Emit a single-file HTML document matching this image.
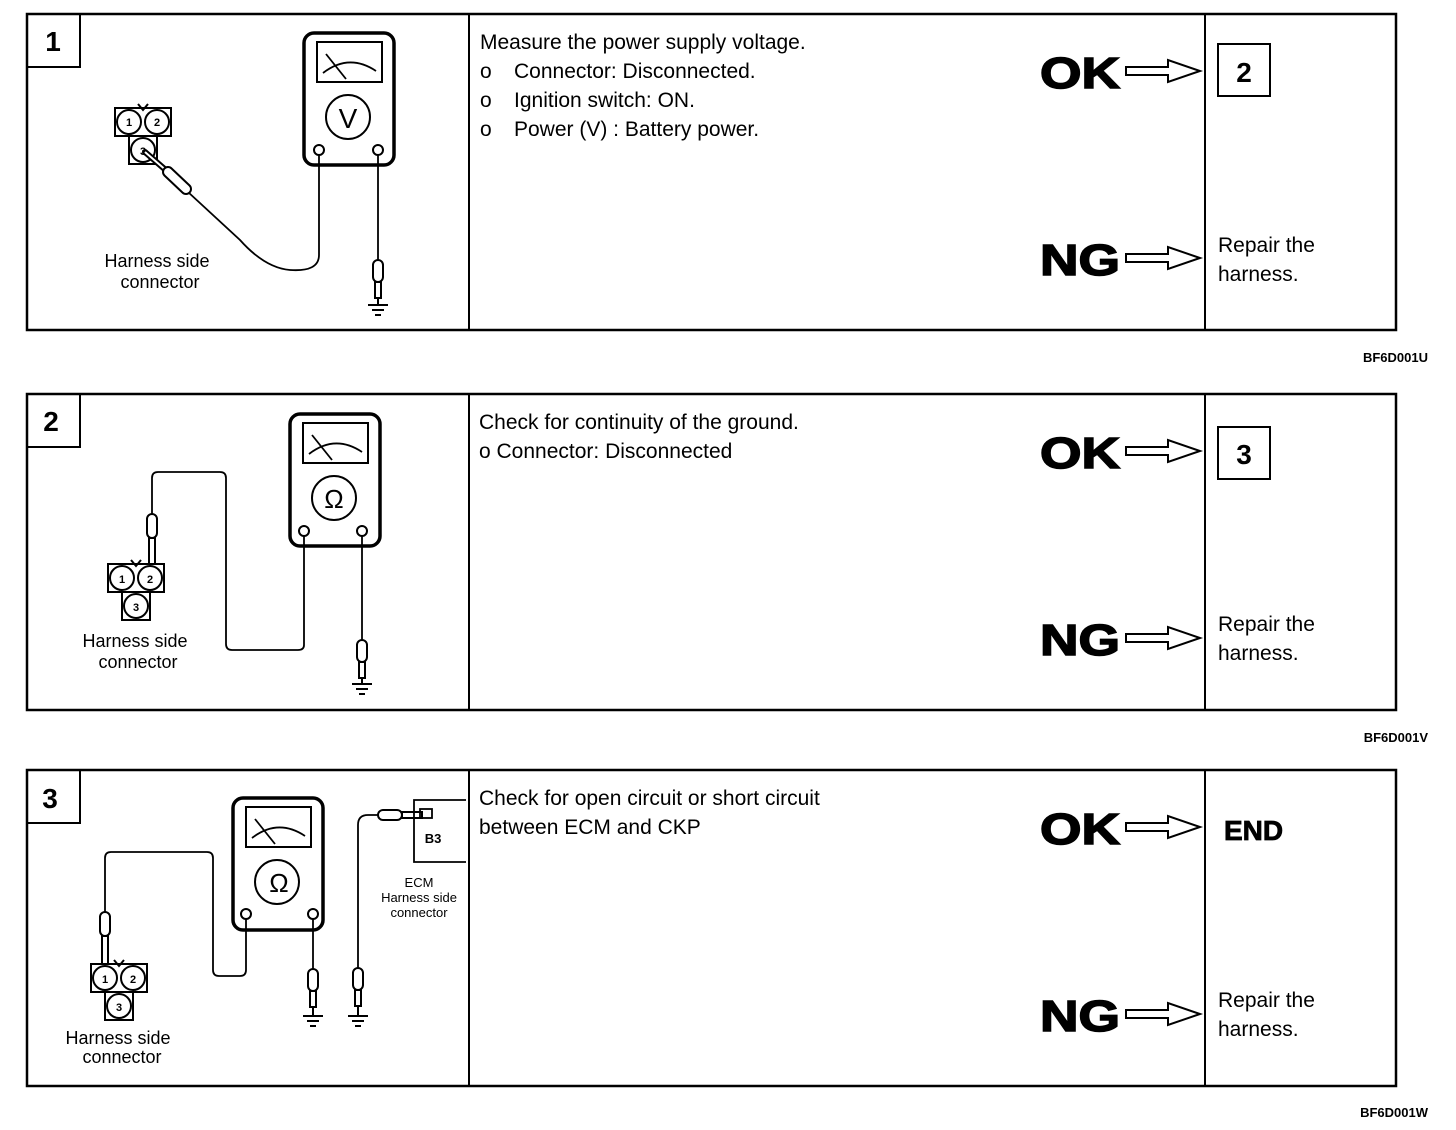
<!DOCTYPE html>
<html><head><meta charset="utf-8"><style>
html,body{margin:0;padding:0;background:#fff}
svg{display:block}
text{font-family:"Liberation Sans",Arial,sans-serif;fill:#000}
</style></head><body>
<svg width="1456" height="1130" viewBox="0 0 1456 1130" xmlns="http://www.w3.org/2000/svg">
<defs>
<g id="frame">
  <rect x="27" y="14" width="1369" height="316" fill="none" stroke="#000" stroke-width="2.5"/>
  <line x1="469" y1="14" x2="469" y2="330" stroke="#000" stroke-width="2"/>
  <line x1="1205" y1="14" x2="1205" y2="330" stroke="#000" stroke-width="2"/>
  <rect x="27" y="14" width="53" height="53" fill="none" stroke="#000" stroke-width="2"/>
  <text x="1040" y="88" font-size="44" font-weight="bold" textLength="80" lengthAdjust="spacingAndGlyphs" stroke="#000" stroke-width="1.5">OK</text>
  <path d="M1126,67 H1168 V60 L1200,71 L1168,82 V75 H1126 Z" fill="#fff" stroke="#000" stroke-width="2"/>
  <text x="1040" y="275" font-size="44" font-weight="bold" textLength="80" lengthAdjust="spacingAndGlyphs" stroke="#000" stroke-width="1.5">NG</text>
  <path d="M1126,254 H1168 V247 L1200,258 L1168,269 V262 H1126 Z" fill="#fff" stroke="#000" stroke-width="2"/>
</g>
<g id="meterTop">
  <rect x="0" y="0" width="90" height="132" rx="10" fill="#fff" stroke="#000" stroke-width="3.5"/>
  <rect x="13" y="9" width="65" height="40" fill="none" stroke="#000" stroke-width="2"/>
  <path d="M19,40 Q45,20 72,38" fill="none" stroke="#000" stroke-width="1.8"/>
  <line x1="22" y1="21" x2="42" y2="46" stroke="#000" stroke-width="1.8"/>
  <circle cx="44" cy="84" r="22" fill="none" stroke="#000" stroke-width="2"/>
</g>
<g id="probe">
  <rect x="-5" y="0" width="10" height="22" rx="5" fill="#fff" stroke="#000" stroke-width="2"/>
  <rect x="-3" y="22" width="6" height="16" fill="#fff" stroke="#000" stroke-width="2"/>
</g>
<g id="gnd" stroke="#000" stroke-width="2">
  <line x1="-10" y1="0" x2="10" y2="0"/><line x1="-6" y1="5" x2="6" y2="5"/><line x1="-3" y1="10" x2="3" y2="10"/>
</g>
<g id="conn" stroke="#000" stroke-width="2" fill="#fff">
  <rect x="-28" y="-14" width="56" height="28"/>
  <rect x="-14" y="14" width="28" height="28"/>
  <circle cx="-14" cy="0" r="12"/><circle cx="14" cy="0" r="12"/><circle cx="0" cy="28" r="12"/>
  <path d="M-5,-18 L0,-12 L5,-18" fill="none"/>
</g>
</defs>

<!-- Panel 1 -->
<use href="#frame"/>
<text x="53" y="51" font-size="28" font-weight="bold" text-anchor="middle">1</text>
<text x="480" y="49" font-size="21">Measure the power supply voltage.</text>
<text x="480" y="78" font-size="21">o</text><text x="514" y="78" font-size="21">Connector: Disconnected.</text>
<text x="480" y="107" font-size="21">o</text><text x="514" y="107" font-size="21">Ignition switch: ON.</text>
<text x="480" y="136" font-size="21">o</text><text x="514" y="136" font-size="21">Power (V) : Battery power.</text>
<rect x="1218" y="44" width="52" height="52" fill="none" stroke="#000" stroke-width="2"/>
<text x="1244" y="82" font-size="28" font-weight="bold" text-anchor="middle">2</text>
<text x="1218" y="252" font-size="21">Repair the</text>
<text x="1218" y="281" font-size="21">harness.</text>
<text x="1428" y="362" font-size="13" font-weight="bold" text-anchor="end">BF6D001U</text>
<g transform="translate(304,33)"><use href="#meterTop"/></g>
<text x="348" y="128" font-size="28" text-anchor="middle">V</text>
<circle cx="319" cy="150" r="5" fill="#fff" stroke="#000" stroke-width="2"/>
<circle cx="378" cy="150" r="5" fill="#fff" stroke="#000" stroke-width="2"/>
<path d="M319,155 V255 Q319,272 290,270 Q265,268 240,240 L188,192" fill="none" stroke="#000" stroke-width="1.8"/>
<use href="#conn" transform="translate(143,122)"/>
<text x="129" y="126" font-size="11" font-weight="bold" text-anchor="middle">1</text>
<text x="157" y="126" font-size="11" font-weight="bold" text-anchor="middle">2</text>
<text x="143" y="155" font-size="11" font-weight="bold" text-anchor="middle">3</text>
<line x1="145" y1="152" x2="168" y2="172" stroke="#000" stroke-width="6" stroke-linecap="round"/>
<line x1="145" y1="152" x2="168" y2="172" stroke="#fff" stroke-width="2"/>
<line x1="168" y1="172" x2="186" y2="189" stroke="#000" stroke-width="12" stroke-linecap="round"/>
<line x1="168" y1="172" x2="186" y2="189" stroke="#fff" stroke-width="8" stroke-linecap="round"/>
<line x1="378" y1="155" x2="378" y2="260" stroke="#000" stroke-width="1.8"/>
<use href="#probe" transform="translate(378,260)"/>
<line x1="378" y1="298" x2="378" y2="305" stroke="#000" stroke-width="2"/>
<use href="#gnd" transform="translate(378,305)"/>
<text x="157" y="267" font-size="18" text-anchor="middle">Harness side</text>
<text x="160" y="288" font-size="18" text-anchor="middle">connector</text>

<!-- Panel 2 -->
<use href="#frame" transform="translate(0,380)"/>
<text x="51" y="431" font-size="28" font-weight="bold" text-anchor="middle">2</text>
<text x="479" y="429" font-size="21">Check for continuity of the ground.</text>
<text x="479" y="458" font-size="21">o Connector: Disconnected</text>
<rect x="1218" y="427" width="52" height="52" fill="none" stroke="#000" stroke-width="2"/>
<text x="1244" y="464" font-size="28" font-weight="bold" text-anchor="middle">3</text>
<text x="1218" y="631" font-size="21">Repair the</text>
<text x="1218" y="660" font-size="21">harness.</text>
<text x="1428" y="742" font-size="13" font-weight="bold" text-anchor="end">BF6D001V</text>
<g transform="translate(290,414)"><use href="#meterTop"/></g>
<text x="334" y="508" font-size="26" text-anchor="middle" font-family="Liberation Serif">Ω</text>
<circle cx="304" cy="531" r="5" fill="#fff" stroke="#000" stroke-width="2"/>
<circle cx="362" cy="531" r="5" fill="#fff" stroke="#000" stroke-width="2"/>
<path d="M304,536 V645 Q304,650 298,650 H232 Q226,650 226,644 V478 Q226,472 220,472 H158 Q152,472 152,478 V514" fill="none" stroke="#000" stroke-width="1.8"/>
<rect x="147" y="514" width="10" height="24" rx="5" fill="#fff" stroke="#000" stroke-width="2"/>
<rect x="149" y="538" width="6" height="26" fill="#fff" stroke="#000" stroke-width="2"/>
<use href="#conn" transform="translate(136,578)"/>
<text x="122" y="583" font-size="11" font-weight="bold" text-anchor="middle">1</text>
<text x="150" y="583" font-size="11" font-weight="bold" text-anchor="middle">2</text>
<text x="136" y="611" font-size="11" font-weight="bold" text-anchor="middle">3</text>
<line x1="362" y1="536" x2="362" y2="640" stroke="#000" stroke-width="1.8"/>
<use href="#probe" transform="translate(362,640)"/>
<line x1="362" y1="678" x2="362" y2="684" stroke="#000" stroke-width="2"/>
<use href="#gnd" transform="translate(362,684)"/>
<text x="135" y="647" font-size="18" text-anchor="middle">Harness side</text>
<text x="138" y="668" font-size="18" text-anchor="middle">connector</text>

<!-- Panel 3 -->
<use href="#frame" transform="translate(0,756)"/>
<text x="50" y="808" font-size="28" font-weight="bold" text-anchor="middle">3</text>
<text x="479" y="805" font-size="21">Check for open circuit or short circuit</text>
<text x="479" y="834" font-size="21">between ECM and CKP</text>
<text x="1224" y="840" font-size="28" font-weight="bold" stroke="#000" stroke-width="0.8">END</text>
<text x="1218" y="1007" font-size="21">Repair the</text>
<text x="1218" y="1036" font-size="21">harness.</text>
<text x="1428" y="1117" font-size="13" font-weight="bold" text-anchor="end">BF6D001W</text>
<g transform="translate(233,798)"><use href="#meterTop"/></g>
<text x="279" y="892" font-size="26" text-anchor="middle" font-family="Liberation Serif">Ω</text>
<circle cx="246" cy="914" r="5" fill="#fff" stroke="#000" stroke-width="2"/>
<circle cx="313" cy="914" r="5" fill="#fff" stroke="#000" stroke-width="2"/>
<path d="M246,919 V970 Q246,976 240,976 H219 Q213,976 213,970 V858 Q213,852 207,852 H111 Q105,852 105,858 V912" fill="none" stroke="#000" stroke-width="1.8"/>
<rect x="100" y="912" width="10" height="24" rx="5" fill="#fff" stroke="#000" stroke-width="2"/>
<rect x="102" y="936" width="6" height="28" fill="#fff" stroke="#000" stroke-width="2"/>
<use href="#conn" transform="translate(119,978)"/>
<text x="105" y="983" font-size="11" font-weight="bold" text-anchor="middle">1</text>
<text x="133" y="983" font-size="11" font-weight="bold" text-anchor="middle">2</text>
<text x="119" y="1011" font-size="11" font-weight="bold" text-anchor="middle">3</text>
<line x1="313" y1="919" x2="313" y2="969" stroke="#000" stroke-width="1.8"/>
<use href="#probe" transform="translate(313,969)"/>
<line x1="313" y1="1007" x2="313" y2="1016" stroke="#000" stroke-width="2"/>
<use href="#gnd" transform="translate(313,1016)"/>
<path d="M358,968 V825 Q358,815 368,815 H378" fill="none" stroke="#000" stroke-width="1.8"/>
<use href="#probe" transform="translate(358,968)"/>
<line x1="358" y1="1006" x2="358" y2="1016" stroke="#000" stroke-width="2"/>
<use href="#gnd" transform="translate(358,1016)"/>
<rect x="378" y="810" width="24" height="10" rx="5" fill="#fff" stroke="#000" stroke-width="2"/>
<rect x="402" y="812" width="20" height="6" fill="#fff" stroke="#000" stroke-width="2"/>
<path d="M466,800 H414 V862 H466" fill="none" stroke="#000" stroke-width="1.8"/>
<rect x="420" y="809" width="12" height="9" fill="none" stroke="#000" stroke-width="1.8"/>
<text x="433" y="843" font-size="13" font-weight="bold" text-anchor="middle">B3</text>
<text x="419" y="887" font-size="13" text-anchor="middle">ECM</text>
<text x="419" y="902" font-size="13" text-anchor="middle">Harness side</text>
<text x="419" y="917" font-size="13" text-anchor="middle">connector</text>
<text x="118" y="1044" font-size="18" text-anchor="middle">Harness side</text>
<text x="122" y="1063" font-size="18" text-anchor="middle">connector</text>
</svg>
</body></html>
